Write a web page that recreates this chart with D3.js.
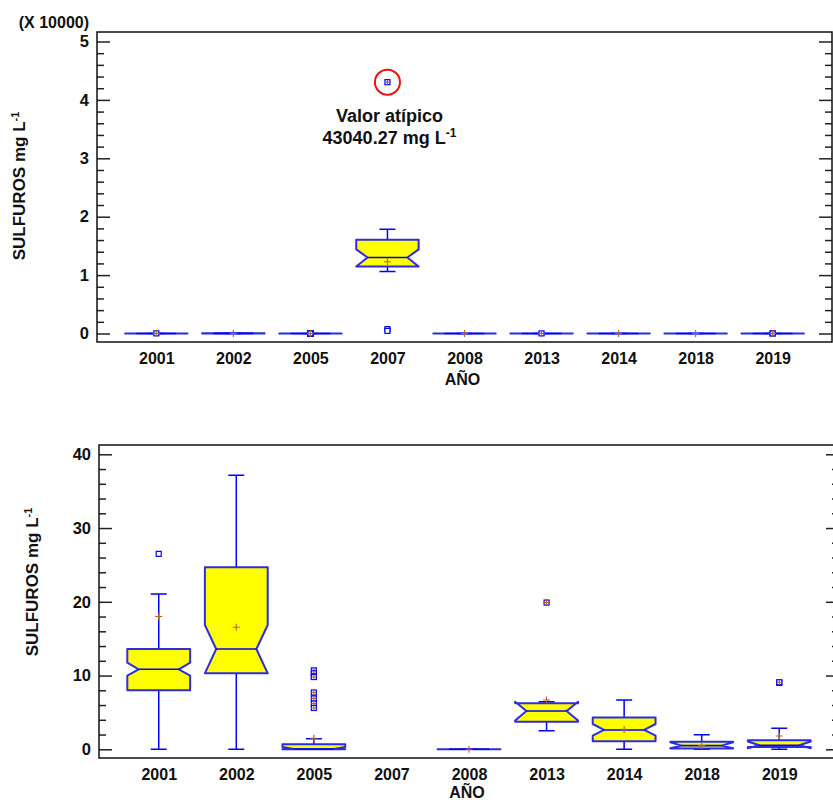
<!DOCTYPE html>
<html>
<head>
<meta charset="utf-8">
<title>Sulfuros por año</title>
<script src="https://cdn.jsdelivr.net/npm/d3@7"></script>
<style>
  body { margin: 0; background: #fff; }
  text { font-family: "Liberation Sans", Arial, sans-serif; font-weight: bold; fill: #111; }
</style>
</head>
<body>
<svg width="833" height="802"></svg>
<script>
// datos (mg/L)
var years     = ["2001", "2002", "2005", "2007", "2008", "2013", "2014", "2018", "2019"];
var q1        = [8.0,   10.3,  0,    11480, 0, 3.75, 1.1,  0.1,  0.31];
var medians   = [10.85, 13.6,  0.05, 13020, 0, 5.19, 2.62, 0.5,  0.54];
var q3        = [13.6,  24.7,  0.68, 16040, 0, 6.24, 4.3,  1.03, 1.22];
var notchLo   = [9.98,  10.3,  0,    11480, 0, 3.9,  1.85, 0.15, 0.15];
var notchHi   = [11.75, 16.85, 0.3,  14400, 0, 6.45, 3.43, 0.95, 1.05];
var whiskerLo = [0,     0,     0,    10630, 0, 2.53, 0,    0,    0];
var whiskerHi = [21.06, 37.15, 1.44, 17870, 0, 6.45, 6.68, 1.98, 2.85];
var means     = [18.0,  16.55, 1.5,  12290, 0, 6.68, 2.7,  0.5,  1.8];
var outliers  = [[26.5], [], [10.7, 10.3, 9.9, 9.8, 7.7, 6.9, 6.2, 5.6], [43040.27, 750, 450], [], [19.9], [], [], [9.0, 9.1]];
var atipico   = 43040.27;

var svg = d3.select("svg");

var boxes = years.map(function(yr, i) {
  return {year: yr, q1: q1[i], med: medians[i], q3: q3[i], nLo: notchLo[i], nHi: notchHi[i],
          wLo: whiskerLo[i], wHi: whiskerHi[i], mean: means[i]};
});
var points = [];
years.forEach(function(yr, i) {
  var iqr = q3[i] - q1[i];
  outliers[i].forEach(function(v) {
    points.push({year: yr, v: v, far: v > q3[i] + 3 * iqr || v < q1[i] - 3 * iqr});
  });
});

function drawPanel(p) {
  var x = d3.scalePoint().domain(years).range([p.left, p.right]).padding(0.77);
  var y = d3.scaleLinear().domain(p.domain).range(p.yRange);
  var bw = x.step() * 0.81, inset = bw * 0.18, cap = 8;

  var g = svg.append("g");

  svg.append("clipPath").attr("id", "clip" + p.id)
    .append("rect")
    .attr("x", p.left).attr("y", p.top)
    .attr("width", p.right - p.left).attr("height", p.bottom - p.top);

  var plot = g.append("g").attr("clip-path", "url(#clip" + p.id + ")");

  // bigotes
  var wk = plot.append("g").attr("stroke", "#0000ff").attr("stroke-width", 1.5);
  wk.selectAll(".wh").data(boxes).enter().append("path")
    .attr("fill", "none")
    .attr("d", function(d) {
      var cx = x(d.year);
      return "M" + cx + "," + y(d.q3) + "V" + y(d.wHi) +
             "M" + (cx - cap) + "," + y(d.wHi) + "H" + (cx + cap) +
             "M" + cx + "," + y(d.q1) + "V" + y(d.wLo) +
             "M" + (cx - cap) + "," + y(d.wLo) + "H" + (cx + cap);
    });

  // cajas con muesca
  plot.append("g").selectAll("path").data(boxes).enter().append("path")
    .attr("fill", "#ffff00")
    .attr("stroke", "#2d2de0")
    .attr("stroke-width", 2)
    .attr("stroke-linejoin", "round")
    .attr("d", function(d) {
      var l = x(d.year) - bw / 2, r = x(d.year) + bw / 2;
      return d3.line()([
        [l, y(d.q1)], [l, y(d.nLo)], [l + inset, y(d.med)], [l, y(d.nHi)], [l, y(d.q3)],
        [r, y(d.q3)], [r, y(d.nHi)], [r - inset, y(d.med)], [r, y(d.nLo)], [r, y(d.q1)]
      ]) + "Z";
    });

  plot.append("g").selectAll("line").data(boxes).enter().append("line")
    .attr("stroke", "#0000ff").attr("stroke-width", 1.6)
    .attr("x1", function(d) { return x(d.year) - bw / 2 + inset; })
    .attr("x2", function(d) { return x(d.year) + bw / 2 - inset; })
    .attr("y1", function(d) { return y(d.med); })
    .attr("y2", function(d) { return y(d.med); });

  // valores atipicos
  var pt = plot.append("g").selectAll("g").data(points).enter().append("g")
    .attr("transform", function(d) { return "translate(" + x(d.year) + "," + y(d.v) + ")"; });
  pt.append("rect")
    .attr("x", -2.5).attr("y", -2.5).attr("width", 5).attr("height", 5)
    .attr("fill", "#fff").attr("stroke", "#0000ff").attr("stroke-width", 1.2);
  pt.filter(function(d) { return d.far; }).append("path")
    .attr("d", "M-2.5,0H2.5M0,-2.5V2.5")
    .attr("stroke", "#b5651d").attr("stroke-width", 1.1);

  // medias
  plot.append("g").selectAll("path").data(boxes).enter().append("path")
    .attr("stroke", "#b5651d").attr("stroke-width", 1.1)
    .attr("d", function(d) {
      var cx = x(d.year), cy = y(d.mean);
      return "M" + (cx - 3.5) + "," + cy + "H" + (cx + 3.5) + "M" + cx + "," + (cy - 3.5) + "V" + (cy + 3.5);
    });

  // ejes
  var majors = d3.range(p.domain[0], p.domain[1] + 1e-9, p.major);
  var minors = d3.range(p.domain[0], p.domain[1] + 1e-9, p.minor).filter(function(v) {
    return majors.indexOf(v) < 0;
  });

  var left = g.append("g").attr("transform", "translate(" + p.left + ",0)")
    .call(d3.axisLeft(y).tickValues(majors).tickSize(-13).tickPadding(8).tickFormat(p.fmt));
  var leftMin = g.append("g").attr("transform", "translate(" + p.left + ",0)")
    .call(d3.axisLeft(y).tickValues(minors).tickSize(-7).tickFormat(""));
  var right = g.append("g").attr("transform", "translate(" + p.right + ",0)")
    .call(d3.axisRight(y).tickValues(majors).tickSize(-13).tickFormat(""));
  var rightMin = g.append("g").attr("transform", "translate(" + p.right + ",0)")
    .call(d3.axisRight(y).tickValues(minors).tickSize(-7).tickFormat(""));
  [left, leftMin, right, rightMin].forEach(function(a) {
    a.select(".domain").remove();
    a.selectAll("line").attr("stroke", "#222").attr("stroke-width", 1.5);
  });
  left.selectAll("text").style("font-size", "16.5px").attr("fill", "#111");

  var bottom = g.append("g").attr("transform", "translate(0," + p.bottom + ")")
    .call(d3.axisBottom(x).tickSize(0).tickPadding(11));
  bottom.select(".domain").remove();
  bottom.selectAll("text").style("font-size", "16px").attr("fill", "#111");

  // marco
  g.append("rect")
    .attr("x", p.left).attr("y", p.top)
    .attr("width", p.right - p.left).attr("height", p.bottom - p.top)
    .attr("fill", "none").attr("stroke", "#111").attr("stroke-width", 1.5);

  g.append("text")
    .attr("x", (p.left + p.right) / 2 - 2).attr("y", p.bottom + p.xTitleGap)
    .attr("text-anchor", "middle").style("font-size", "16px")
    .text("AÑO");

  var t = g.append("text")
    .attr("transform", "translate(" + p.titleX + "," + p.titleY + ") rotate(-90)")
    .attr("text-anchor", "middle").style("font-size", "17px");
  t.append("tspan").text("SULFUROS mg L");
  t.append("tspan").attr("baseline-shift", "super").style("font-size", "11px").text("-1");

  return {x: x, y: y, g: g};
}

var topPanel = drawPanel({
  id: "a", left: 97, right: 832, top: 32, bottom: 342,
  domain: [0, 50000], yRange: [333.5, 41.5], major: 10000, minor: 2000,
  fmt: function(d) { return d / 10000; },
  titleX: 25, titleY: 186, xTitleGap: 43
});

drawPanel({
  id: "b", left: 99, right: 839, top: 445, bottom: 758,
  domain: [0, 40], yRange: [749.3, 454.3], major: 10, minor: 2,
  fmt: function(d) { return d; },
  titleX: 38, titleY: 582, xTitleGap: 40
});

svg.append("text")
  .attr("x", 89).attr("y", 28)
  .attr("text-anchor", "end").style("font-size", "16px")
  .text("(X 10000)");

// valor atipico marcado
var ax = topPanel.x("2007"), ay = topPanel.y(atipico);
svg.append("circle")
  .attr("cx", ax).attr("cy", ay).attr("r", 12.5)
  .attr("fill", "none").attr("stroke", "#ee1111").attr("stroke-width", 2);

svg.append("text")
  .attr("x", ax + 2).attr("y", ay + 40)
  .attr("text-anchor", "middle").style("font-size", "18px")
  .text("Valor atípico");
var t2 = svg.append("text")
  .attr("x", ax + 2).attr("y", ay + 62)
  .attr("text-anchor", "middle").style("font-size", "18px");
t2.append("tspan").text(d3.format(".2f")(atipico) + " mg L");
t2.append("tspan").attr("baseline-shift", "super").style("font-size", "12px").text("-1");
</script>
</body>
</html>
